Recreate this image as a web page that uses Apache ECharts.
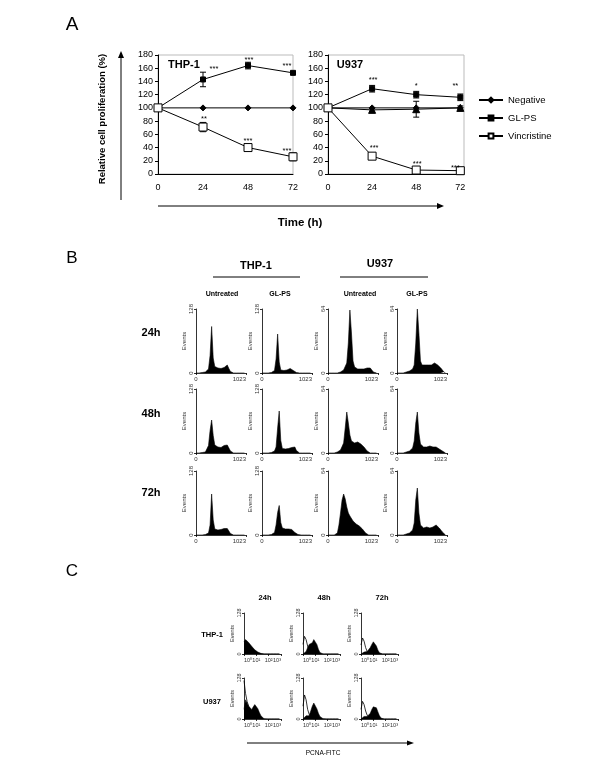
<!DOCTYPE html>
<html><head><meta charset="utf-8">
<script src="https://cdn.jsdelivr.net/npm/echarts@6/dist/echarts.min.js"></script>
<style>html,body{margin:0;padding:0;background:#fff}#c{width:600px;height:776px}</style>
</head><body><div id="c"></div>
<script>
// ---------- Panel A data ----------
const hours = [0, 24, 48, 72];
const thpNegative = [100, 100, 100, 100];
const thpGLPS = [100, 143, 164, 153];
const thpGLPSErr = [0, 11, 5, 2];
const thpVinc = [100, 71, 40, 26];
const thpVincErr = [0, 7, 3, 6];
const thpGLPSSig = ['', '***', '***', '***'];
const thpVincSig = ['', '**', '***', '***'];

const u937Negative = [100, 100, 100, 100];
const u937GLPS = [100, 129, 120, 116];
const u937GLPSErr = [0, 5, 5, 5];
const u937Vinc = [100, 27, 6, 5];
const u937VincErr = [0, 3, 3, 2];
const u937Other = [100, 97, 98, 100];
const u937OtherErr = [0, 2, 12, 3];
const u937GLPSSig = ['', '***', '*', '**'];
const u937VincSig = ['', '***', '***', '***'];

// ---------- Panel B data (cell-cycle histograms, counts per 32-channel bin, 0..1023) ----------
const bThp24Un = [0,0,0,0,1,1,2,3,8,35,93,30,13,11,10,10,9,10,11,14,16,9,3,1,0,0,0,0,0,0,0,0];
const bThp24GL = [0,0,0,0,0,1,1,2,5,28,78,22,6,5,5,5,6,8,9,8,5,2,1,0,0,0,0,0,0,0,0,0];
const bU24Un   = [0,0,0,0,0,0,0,1,1,2,3,5,10,30,63,40,12,6,5,4,4,4,4,4,5,5,6,5,3,1,0,0];
const bU24GL   = [0,0,0,0,0,1,1,1,2,3,4,8,30,64,40,12,8,7,8,9,8,7,8,9,10,9,8,7,5,3,1,0];
const bThp48Un = [0,0,0,0,1,1,2,5,15,45,66,35,16,13,12,11,11,12,15,17,16,10,4,1,0,0,0,0,0,0,0,0];
const bThp48GL = [0,0,0,0,0,1,1,2,4,12,50,84,25,9,8,8,8,9,10,11,13,12,5,1,0,0,0,0,0,0,0,0];
const bU48Un   = [0,0,0,0,0,0,1,2,3,5,10,25,41,30,18,12,11,10,10,11,10,9,8,6,4,2,1,0,0,0,0,0];
const bU48GL   = [0,0,0,0,0,0,1,1,2,3,5,12,30,41,20,9,7,6,6,6,7,7,6,6,7,6,5,4,3,2,1,0];
const bThp72Un = [0,0,0,0,0,1,1,2,4,20,82,30,12,11,10,10,11,12,13,14,13,8,3,1,0,0,0,0,0,0,0,0];
const bThp72GL = [0,0,0,0,0,1,1,2,5,20,45,59,25,14,12,12,12,12,12,11,9,5,2,1,0,0,0,0,0,0,0,0];
const bU72Un   = [0,0,0,0,0,0,2,10,22,35,41,36,28,22,19,17,14,12,11,10,9,8,6,4,2,1,0,0,0,0,0,0];
const bU72GL   = [0,0,0,0,0,0,1,1,2,3,5,12,35,47,22,10,8,7,7,8,8,7,7,8,9,10,9,7,5,3,1,0];
const bRowLabels = ['24h', '48h', '72h'];
const bColLabels = ['Untreated', 'GL-PS', 'Untreated', 'GL-PS'];
const bColMax = [128, 128, 64, 64];

// ---------- Panel C data (PCNA-FITC, counts per 1/8-decade bin, 10^0..10^3) ----------
const cThp24Fill = [38,45,42,36,30,24,18,13,9,6,4,2,1,0,0,0,0,0,0,0,0,0,0,0];
const cThp24Ctrl = [40,44,38,30,22,15,10,6,4,2,1,0,0,0,0,0,0,0,0,0,0,0,0,0];
const cThp48Fill = [0,2,8,20,30,28,35,45,42,30,15,5,1,0,0,0,0,0,0,0,0,0,0,0];
const cThp48Ctrl = [30,55,45,25,10,4,1,0,0,0,0,0,0,0,0,0,0,0,0,0,0,0,0,0];
const cThp72Fill = [0,2,6,10,8,12,20,30,38,36,25,12,4,1,0,0,0,0,0,0,0,0,0,0];
const cThp72Ctrl = [28,50,40,20,8,3,1,0,0,0,0,0,0,0,0,0,0,0,0,0,0,0,0,0];
const cU24Fill   = [30,60,50,40,35,30,38,45,42,32,20,10,4,1,0,0,0,0,0,0,0,0,0,0];
const cU24Ctrl   = [120,80,55,40,30,22,15,10,6,3,1,0,0,0,0,0,0,0,0,0,0,0,0,0];
const cU48Fill   = [0,5,10,8,10,25,40,50,45,32,18,8,3,1,0,0,0,0,0,0,0,0,0,0];
const cU48Ctrl   = [40,75,60,30,15,6,2,0,0,0,0,0,0,0,0,0,0,0,0,0,0,0,0,0];
const cU72Fill   = [0,3,8,12,8,10,18,30,38,40,35,22,10,3,1,0,0,0,0,0,0,0,0,0];
const cU72Ctrl   = [30,55,45,25,12,5,2,0,0,0,0,0,0,0,0,0,0,0,0,0,0,0,0,0];
const cColLabels = ['24h', '48h', '72h'];
const cRowLabels = ['THP-1', 'U937'];
const cTickLabels = ['10\u2070', '10\u00B9', '10\u00B2', '10\u00B3'];

// ---------- build ----------
const FONT = '"Liberation Sans", Arial, Helvetica, sans-serif';
const grids = [], xAxes = [], yAxes = [], series = [];
function addGrid(g, xa, ya) {
  grids.push(Object.assign({ outerBoundsMode: 'none' }, g));
  const gi = grids.length - 1;
  xAxes.push(Object.assign({ gridIndex: gi }, xa));
  yAxes.push(Object.assign({ gridIndex: gi }, ya));
  return gi;
}

// Panel A axes
const aY = () => ({ type: 'value', min: 0, max: 180, interval: 20,
  axisLine: { show: true, lineStyle: { color: '#000', width: 1 } },
  axisTick: { show: true, length: 3, lineStyle: { color: '#000' } },
  axisLabel: { fontSize: 9, color: '#000', margin: 5, fontFamily: FONT },
  splitLine: { show: false } });
const aX = (max) => ({ type: 'value', min: 0, max: max, interval: 24,
  axisLine: { show: true, onZero: false, lineStyle: { color: '#000', width: 1 } },
  axisTick: { show: false },
  axisLabel: { fontSize: 9, color: '#000', margin: 9, fontFamily: FONT,
    formatter: v => hours.includes(v) ? String(v) : '' },
  splitLine: { show: false } });

const gA1 = addGrid({ left: 158, top: 55, width: 135, height: 119, show: true, borderColor: '#bbb', borderWidth: 1 }, aX(72), aY());
const gA2 = addGrid({ left: 328, top: 55, width: 136, height: 119, show: true, borderColor: '#bbb', borderWidth: 1 }, aX(74), aY());

function lineSer(name, gi, vals, sym, size, filled, sig, offs, z) {
  return { type: 'line', name, xAxisIndex: gi, yAxisIndex: gi, symbol: sym, symbolSize: size,
    showAllSymbol: true, animation: false, z: z || 4,
    lineStyle: { color: '#000', width: 1 },
    itemStyle: { color: filled ? '#000' : '#fff', borderColor: '#000', borderWidth: 1 },
    emphasis: { disabled: true },
    data: hours.map((h, i) => {
      const d = { value: [h, vals[i]] };
      if (sig && sig[i]) d.label = { show: true, formatter: sig[i], position: 'inside', offset: offs[i],
        fontSize: 7.5, color: '#000', fontFamily: FONT, align: 'center', verticalAlign: 'middle' };
      return d;
    }) };
}
function errSer(gi, vals, errs) {
  return { type: 'custom', xAxisIndex: gi, yAxisIndex: gi, z: 3, silent: true, animation: false,
    encode: { x: 0, y: [1, 2] },
    data: hours.map((h, i) => [h, vals[i] - errs[i], vals[i] + errs[i]]),
    renderItem(params, api) {
      const lo = api.coord([api.value(0), api.value(1)]);
      const hi = api.coord([api.value(0), api.value(2)]);
      if (Math.abs(hi[1] - lo[1]) < 0.5) return null;
      const w = 3, st = { stroke: '#000', lineWidth: 1 };
      return { type: 'group', children: [
        { type: 'line', shape: { x1: lo[0], y1: lo[1], x2: hi[0], y2: hi[1] }, style: st },
        { type: 'line', shape: { x1: lo[0] - w, y1: lo[1], x2: lo[0] + w, y2: lo[1] }, style: st },
        { type: 'line', shape: { x1: hi[0] - w, y1: hi[1], x2: hi[0] + w, y2: hi[1] }, style: st } ] };
    } };
}
// THP-1
series.push(errSer(gA1, thpGLPS, thpGLPSErr), errSer(gA1, thpVinc, thpVincErr));
series.push(lineSer('Negative', gA1, thpNegative, 'diamond', 6, true));
series.push(lineSer('GL-PS', gA1, thpGLPS, 'rect', 5, true, thpGLPSSig, [null, [11, -11], [1, -6], [-6, -7]]));
series.push(lineSer('Vincristine', gA1, thpVinc, 'rect', 8, false, thpVincSig, [null, [1, -8], [0, -7], [-6, -6]]));
// U937
series.push(errSer(gA2, u937GLPS, u937GLPSErr), errSer(gA2, u937Vinc, u937VincErr), errSer(gA2, u937Other, u937OtherErr));
series.push(lineSer('Negative', gA2, u937Negative, 'diamond', 6, true));
series.push(lineSer('Other', gA2, u937Other, 'triangle', 7, true));
series.push(lineSer('GL-PS', gA2, u937GLPS, 'rect', 5, true, u937GLPSSig, [null, [1, -9], [0, -9], [-5, -11]]));
series.push(lineSer('Vincristine', gA2, u937Vinc, 'rect', 8, false, u937VincSig, [null, [2, -8], [1, -6], [-5, -3]]));

// Panel B histograms
const bHist = [[bThp24Un, bThp24GL, bU24Un, bU24GL], [bThp48Un, bThp48GL, bU48Un, bU48GL], [bThp72Un, bThp72GL, bU72Un, bU72GL]];
const BIN_B = 32;
const bLeft = [196, 262, 328, 397], bTop = [309, 389, 471];
const histY = (max) => ({ type: 'value', min: 0, max: max, interval: max, name: 'Events', nameLocation: 'middle', nameGap: 9, nameRotate: 90,
  nameTextStyle: { fontSize: 6, color: '#333', fontFamily: FONT },
  axisLine: { show: true, lineStyle: { color: '#000', width: 0.8 } },
  axisTick: { show: true, length: 2, lineStyle: { color: '#000', width: 0.8 } },
  axisLabel: { fontSize: 6, color: '#333', rotate: 90, margin: 2, fontFamily: FONT, formatter: v => String(v) },
  splitLine: { show: false } });
const histXB = () => ({ type: 'value', min: 0, max: 1023, interval: 1023,
  axisLine: { show: true, onZero: false, lineStyle: { color: '#000', width: 0.8 } },
  axisTick: { show: true, length: 2, lineStyle: { color: '#000', width: 0.8 } },
  axisLabel: { fontSize: 6, color: '#333', margin: 3, fontFamily: FONT, alignMaxLabel: 'right', formatter: v => String(v) },
  splitLine: { show: false } });
bHist.forEach((row, r) => row.forEach((vals, c) => {
  const gi = addGrid({ left: bLeft[c], top: bTop[r], width: 50, height: 64 }, histXB(), histY(bColMax[c]));
  series.push({ type: 'line', xAxisIndex: gi, yAxisIndex: gi, symbol: 'none', animation: false, silent: true,
    lineStyle: { color: '#000', width: 0.6 }, areaStyle: { color: '#000', opacity: 1 },
    data: vals.map((v, i) => [i * BIN_B, v]) });
}));

// Panel C histograms
const cFill = [[cThp24Fill, cThp48Fill, cThp72Fill], [cU24Fill, cU48Fill, cU72Fill]];
const cCtrl = [[cThp24Ctrl, cThp48Ctrl, cThp72Ctrl], [cU24Ctrl, cU48Ctrl, cU72Ctrl]];
const BIN_C = 0.125;
const cLeft = [244, 303, 361], cTop = [613, 678];
const histXC = () => ({ type: 'value', min: 0, max: 3, interval: 1,
  axisLine: { show: true, onZero: false, lineStyle: { color: '#000', width: 0.8 } },
  axisTick: { show: true, length: 2, lineStyle: { color: '#000', width: 0.8 } },
  axisLabel: { fontSize: 5.5, color: '#333', margin: 3, fontFamily: FONT, alignMinLabel: 'left', alignMaxLabel: 'right',
    formatter: v => cTickLabels[Math.round(v)] },
  splitLine: { show: false } });
cFill.forEach((row, r) => row.forEach((vals, c) => {
  const y = histY(128); y.nameGap = 8; y.axisLabel.fontSize = 5.5; y.nameTextStyle.fontSize = 5.5;
  const gi = addGrid({ left: cLeft[c], top: cTop[r], width: 37, height: 41 }, histXC(), y);
  series.push({ type: 'line', xAxisIndex: gi, yAxisIndex: gi, symbol: 'none', animation: false, silent: true,
    lineStyle: { color: '#000', width: 0.5 }, areaStyle: { color: '#000', opacity: 1 },
    data: vals.map((v, i) => [i * BIN_C, v]) });
  series.push({ type: 'line', xAxisIndex: gi, yAxisIndex: gi, symbol: 'none', animation: false, silent: true, z: 5,
    lineStyle: { color: '#000', width: 0.8 },
    data: cCtrl[r][c].map((v, i) => [i * BIN_C, v]) });
}));

// ---------- annotations ----------
const T = (text, x, y, size, bold, extra) => Object.assign({ type: 'text', x, y, silent: true,
  style: { text, font: (bold ? 'bold ' : '') + size + 'px ' + FONT, fill: '#000', align: 'center', verticalAlign: 'middle' } }, extra || {});
const L = (x1, y1, x2, y2, w) => ({ type: 'line', silent: true, shape: { x1, y1, x2, y2 }, style: { stroke: '#000', lineWidth: w || 1 } });
const P = (pts) => ({ type: 'polygon', silent: true, shape: { points: pts }, style: { fill: '#000' } });

const graphics = [
  T('A', 72, 25, 19, false), T('B', 72, 258, 17, false), T('C', 72, 571, 17, false),
  T('THP-1', 184, 65, 11, true), T('U937', 350, 65, 11, true),
  T('Relative cell proliferation (%)', 102, 119, 9.5, true, { rotation: Math.PI / 2 }),
  L(121, 200, 121, 57), P([[121, 51], [118, 58], [124, 58]]),
  L(158, 206, 438, 206), P([[444, 206], [437, 203], [437, 209]]),
  T('Time (h)', 300, 223, 11.5, true),
  T('THP-1', 256, 266, 11, true), T('U937', 380, 264, 11, true),
  L(213, 277, 300, 277), L(340, 277, 428, 277),
  T('PCNA-FITC', 323, 753, 6.5, false),
  L(247, 743, 408, 743), P([[414, 743], [407, 740.5], [407, 745.5]])
];
const bHeadX = [222, 280, 360, 417];
bColLabels.forEach((t, i) => graphics.push(T(t, bHeadX[i], 294, 7, true)));
const bRowY = [333, 414, 493];
bRowLabels.forEach((t, i) => graphics.push(T(t, 151, bRowY[i], 11, true)));
cColLabels.forEach((t, i) => graphics.push(T(t, cLeft[i] + 21, 598, 7.5, true)));
cRowLabels.forEach((t, i) => graphics.push(T(t, 212, [635, 702][i], 7.5, true)));

const chart = echarts.init(document.getElementById('c'), null, { renderer: 'canvas' });
chart.setOption({
  animation: false,
  backgroundColor: '#fff',
  textStyle: { fontFamily: FONT },
  grid: grids, xAxis: xAxes, yAxis: yAxes, series,
  legend: { orient: 'vertical', left: 473, top: 90, itemWidth: 24, itemHeight: 6, itemGap: 8,
    data: ['Negative', 'GL-PS', 'Vincristine'], selectedMode: false,
    textStyle: { fontSize: 9.5, color: '#000', fontFamily: FONT } },
  graphic: graphics
});
</script></body></html>
